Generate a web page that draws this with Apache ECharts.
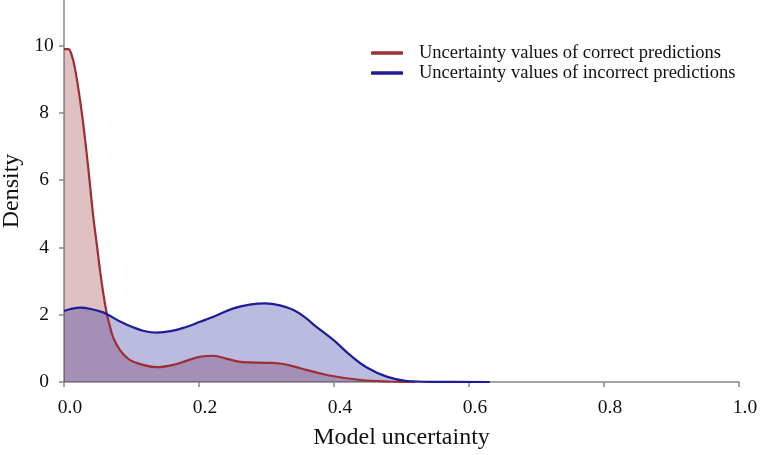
<!DOCTYPE html>
<html>
<head>
<meta charset="utf-8">
<script src="https://cdn.jsdelivr.net/npm/echarts@6/dist/echarts.min.js"></script>
<style>
html,body{margin:0;padding:0;background:#fff;}
#chart{width:761px;height:455px;}
</style>
</head>
<body>
<div id="chart"></div>
<script>
const seriesNames = ['Uncertainty values of correct predictions', 'Uncertainty values of incorrect predictions'];
const correctX = [0.000, 0.0064, 0.0114, 0.0163, 0.0212, 0.0262, 0.0311, 0.036, 0.0434, 0.0484, 0.0533, 0.0582, 0.0633, 0.0681, 0.073, 0.083, 0.098, 0.1175, 0.137, 0.16, 0.18, 0.2015, 0.221, 0.243, 0.265, 0.30, 0.32, 0.35, 0.375, 0.40, 0.44, 0.48, 0.52];
const correctY = [9.90, 9.90, 9.72, 9.32, 8.73, 8.03, 7.24, 6.35, 4.91, 4.12, 3.33, 2.64, 2.04, 1.65, 1.32, 0.95, 0.65, 0.51, 0.44, 0.50, 0.62, 0.75, 0.78, 0.68, 0.59, 0.57, 0.55, 0.41, 0.28, 0.17, 0.06, 0.015, 0.0];
const incorrectX = [0.000, 0.010, 0.024, 0.040, 0.058, 0.066, 0.083, 0.103, 0.12, 0.137, 0.16, 0.18, 0.2015, 0.225, 0.251, 0.275, 0.298, 0.32, 0.34, 0.357, 0.374, 0.399, 0.424, 0.448, 0.478, 0.508, 0.55, 0.631];
const incorrectY = [2.11, 2.17, 2.21, 2.17, 2.07, 1.99, 1.80, 1.62, 1.51, 1.47, 1.52, 1.63, 1.79, 1.97, 2.19, 2.30, 2.34, 2.28, 2.14, 1.92, 1.64, 1.25, 0.80, 0.44, 0.16, 0.03, 0.005, 0.0];
const yTicks = [0, 2, 4, 6, 8, 10];

const correctData = correctX.map((x, i) => [x, correctY[i]]);
const incorrectData = incorrectX.map((x, i) => [x, incorrectY[i]]);

const font = 'Liberation Serif';
const textColor = '#111';
const redLine = '#9c2e34';
const blueLine = '#1d1d97';

const chart = echarts.init(document.getElementById('chart'), null, {renderer: 'canvas'});
chart.setOption({
  animation: false,
  backgroundColor: '#ffffff',
  grid: {left: 64, right: 22, top: 0, bottom: 73, containLabel: false, outerBoundsMode: 'none'},
  legend: {
    orient: 'vertical',
    left: 366,
    top: 38,
    icon: 'roundRect',
    itemWidth: 32,
    itemHeight: 3.5,
    itemGap: 0,
    data: seriesNames,
    textStyle: {fontFamily: font, fontSize: 18.5, color: textColor, lineHeight: 20, padding: [0, 0, 0, 11]}
  },
  xAxis: {
    type: 'value',
    min: 0,
    max: 1,
    interval: 0.2,
    name: 'Model uncertainty',
    nameLocation: 'middle',
    nameGap: 44,
    nameTextStyle: {fontFamily: font, fontSize: 24, color: textColor},
    axisLine: {show: true, lineStyle: {color: '#888', width: 1.5}},
    axisTick: {show: true, length: 5, lineStyle: {color: '#888', width: 1.5}},
    axisLabel: {fontFamily: font, fontSize: 19.5, color: textColor, margin: 16, padding: [0, 0, 0, 12], formatter: v => v.toFixed(1)},
    splitLine: {show: false}
  },
  yAxis: {
    type: 'value',
    min: 0,
    max: 11.36,
    name: 'Density',
    nameLocation: 'middle',
    nameGap: 37,
    nameTextStyle: {fontFamily: font, fontSize: 24, color: textColor},
    axisLine: {show: true, lineStyle: {color: '#888', width: 1.5}},
    axisTick: {show: true, length: 5, customValues: yTicks, lineStyle: {color: '#888', width: 1.5}},
    axisLabel: {fontFamily: font, fontSize: 19.5, color: textColor, margin: 20, align: 'center', customValues: yTicks},
    splitLine: {show: false}
  },
  series: [
    {
      name: 'correct-area', type: 'line', data: correctData, smooth: 0.4, showSymbol: false,
      lineStyle: {width: 0, opacity: 0}, areaStyle: {color: 'rgba(150,50,60,0.3)', opacity: 1}, z: 1, silent: true
    },
    {
      name: 'incorrect-area', type: 'line', data: incorrectData, smooth: 0.4, showSymbol: false,
      lineStyle: {width: 0, opacity: 0}, areaStyle: {color: 'rgba(30,30,150,0.3)', opacity: 1}, z: 1, silent: true
    },
    {
      name: seriesNames[0], type: 'line', data: correctData, smooth: 0.4, showSymbol: false,
      color: redLine, lineStyle: {color: redLine, width: 2.2}, z: 3
    },
    {
      name: seriesNames[1], type: 'line', data: incorrectData, smooth: 0.4, showSymbol: false,
      color: blueLine, lineStyle: {color: blueLine, width: 2.2}, z: 4
    }
  ]
});
</script>
</body>
</html>
